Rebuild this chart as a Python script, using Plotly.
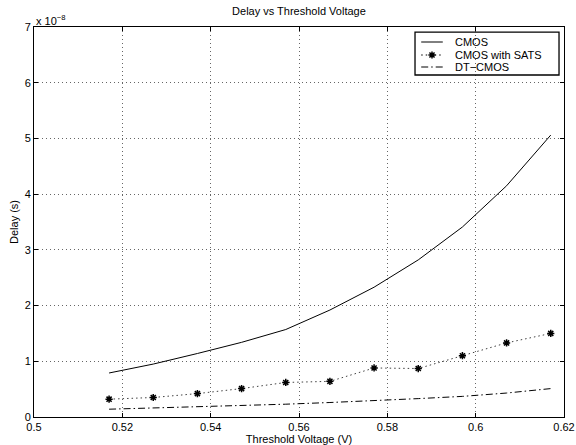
import plotly.graph_objects as go

# Threshold voltage (V)
vth = [0.517, 0.527, 0.537, 0.547, 0.557, 0.567, 0.577, 0.587, 0.597, 0.607, 0.617]
# Delay in units of 1e-8 s
cmos = [0.79, 0.95, 1.14, 1.34, 1.57, 1.92, 2.33, 2.82, 3.41, 4.15, 5.06]
cmos_sats = [0.32, 0.35, 0.42, 0.51, 0.62, 0.64, 0.88, 0.87, 1.10, 1.33, 1.50]
dt_cmos = [0.14, 0.16, 0.18, 0.20, 0.23, 0.26, 0.29, 0.33, 0.37, 0.43, 0.51]

series_names = ["CMOS", "CMOS with SATS", "DT\u2212CMOS"]

x_ticks = [0.5, 0.52, 0.54, 0.56, 0.58, 0.6, 0.62]
x_tick_text = ["0.5", "0.52", "0.54", "0.56", "0.58", "0.6", "0.62"]
y_ticks = [0, 1, 2, 3, 4, 5, 6, 7]

FONT = "Liberation Sans, Arial, Helvetica, sans-serif"
SATS_DASH = "1.5px,3px"
DT_DASH = "7px,3px,1.5px,3px"

fig = go.Figure()
fig.add_trace(go.Scatter(x=vth, y=cmos, mode="lines", name=series_names[0],
                         line=dict(color="black", width=1)))
fig.add_trace(go.Scatter(x=vth, y=cmos_sats, mode="lines+markers", name=series_names[1],
                         line=dict(color="rgba(0,0,0,0.75)", width=1, dash=SATS_DASH),
                         marker=dict(symbol="asterisk-open", size=6, color="black",
                                     line=dict(color="black", width=1.5))))
fig.add_trace(go.Scatter(x=vth, y=dt_cmos, mode="lines", name=series_names[2],
                         line=dict(color="black", width=1, dash=DT_DASH)))

axis_common = dict(
    showline=True, linecolor="black", linewidth=1, mirror="allticks",
    ticks="inside", ticklen=4, tickcolor="black",
    showgrid=True, gridcolor="rgba(0,0,0,0.6)", griddash="1px,3px", gridwidth=1,
    zeroline=False, tickfont=dict(family=FONT, size=11, color="black"),
    automargin=False,
)

fig.update_layout(
    width=576, height=445,
    margin=dict(l=34, r=12, t=27, b=28),
    paper_bgcolor="white", plot_bgcolor="white",
    font=dict(family=FONT, size=11, color="black"),
    title=dict(text="Delay vs Threshold Voltage", x=0.519, xanchor="center",
               y=0.975, yanchor="middle", font=dict(family=FONT, size=11, color="black")),
    xaxis=dict(range=[0.5, 0.62], tickvals=x_ticks, ticktext=x_tick_text,
               title=dict(text="Threshold Voltage (V)", standoff=6,
                          font=dict(family=FONT, size=11, color="black")),
               **axis_common),
    yaxis=dict(range=[0, 7], tickvals=y_ticks,
               title=dict(text="Delay (s)", standoff=3,
                          font=dict(family=FONT, size=11, color="black")),
               **axis_common),
    xaxis2=dict(range=[0, 1], overlaying="x", visible=False, fixedrange=True),
    yaxis2=dict(range=[0, 1], overlaying="y", visible=False, fixedrange=True),
    showlegend=False,
)

fig.add_annotation(text="x 10<sup>\u22128</sup>", xref="paper", yref="paper",
                   x=0.0, y=1.0, xanchor="left", yanchor="bottom", showarrow=False,
                   font=dict(family=FONT, size=11, color="black"), yshift=-2)

# --- Compact MATLAB-style legend (drawn in paper coordinates) ---
lg_x0, lg_x1, lg_y0, lg_y1 = 0.7189, 0.9906, 0.8769, 0.987
fig.add_shape(type="rect", xref="paper", yref="paper",
              x0=lg_x0, x1=lg_x1, y0=lg_y0, y1=lg_y1,
              line=dict(color="black", width=1.3), fillcolor="white", layer="between")
row_y = [0.9615, 0.9282, 0.8974]
samp_x0, samp_x1, text_x = 0.7306, 0.7713, 0.7911
dashes = ["solid", SATS_DASH, DT_DASH]
for name, yy, dsh in zip(series_names, row_y, dashes):
    fig.add_shape(type="line", xref="paper", yref="paper",
                  x0=samp_x0, x1=samp_x1, y0=yy, y1=yy,
                  line=dict(color="black", width=1, dash=dsh), layer="above")
    fig.add_annotation(text=name, xref="paper", yref="paper", x=text_x, y=yy,
                       xanchor="left", yanchor="middle", showarrow=False,
                       font=dict(family=FONT, size=11, color="black"))
fig.add_trace(go.Scatter(x=[(samp_x0 + samp_x1) / 2], y=[row_y[1]], xaxis="x2", yaxis="y2",
                         mode="markers", showlegend=False, hoverinfo="skip", cliponaxis=False,
                         marker=dict(symbol="asterisk-open", size=6, color="black",
                                     line=dict(color="black", width=1.5))))

fig.write_html("out.html")
